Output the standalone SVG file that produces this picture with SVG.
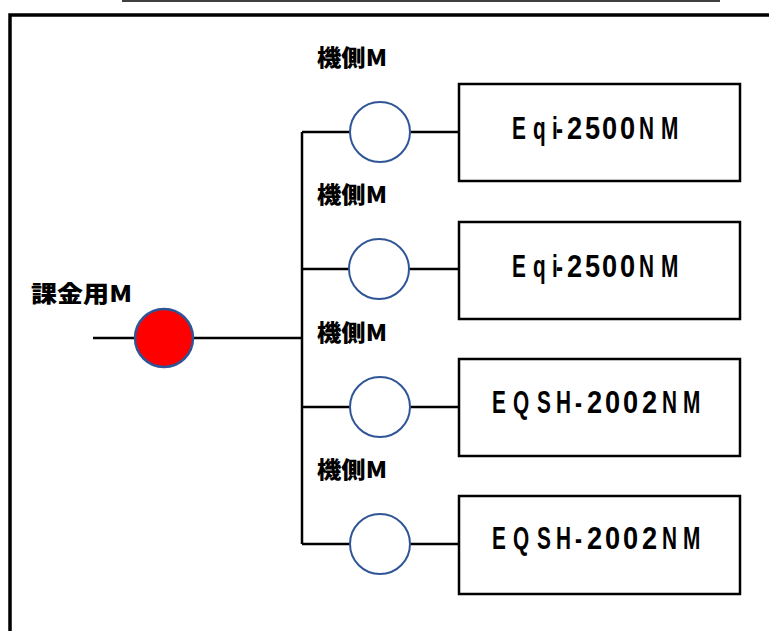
<svg xmlns="http://www.w3.org/2000/svg" width="769" height="631" viewBox="0 0 769 631">
<style>
.wire{stroke:#000;stroke-width:2.5;fill:none}
.meter{fill:#fff;stroke:#2F5597;stroke-width:2}
.box{fill:#fff;stroke:#000;stroke-width:2.5}
.lbl{font-family:"Noto Sans CJK JP","Liberation Sans",sans-serif;font-weight:900;font-size:23px;fill:#000}
.model{font-family:"Liberation Sans",sans-serif;font-weight:bold;font-size:32px;fill:#000}
</style>
<rect width="769" height="631" fill="#fff"/>
<g id="frame">
<line x1="122" y1="1" x2="720" y2="1" stroke="#000" stroke-width="1.5"/>
<polyline points="10,631 10,15 769,15" fill="none" stroke="#000" stroke-width="3.5"/>
</g>
<g id="connectors" class="wire">
<line x1="93" y1="338" x2="302" y2="338"/>
<line x1="302" y1="132" x2="302" y2="544"/>
<line x1="302" y1="132" x2="459" y2="132"/>
<line x1="302" y1="269" x2="459" y2="269"/>
<line x1="302" y1="407" x2="459" y2="407"/>
<line x1="302" y1="544" x2="459" y2="544"/>
</g>
<g id="main-meter">
<circle cx="164" cy="338" r="29" fill="#FF0000" stroke="#2F5597" stroke-width="2.5"/>
<text class="lbl" x="31" y="302" font-size="25" textLength="101" lengthAdjust="spacingAndGlyphs">課金用M</text>
</g>
<g id="meter1">
<circle class="meter" cx="380" cy="132" r="30"/>
<text class="lbl" x="317" y="66" textLength="70" lengthAdjust="spacingAndGlyphs">機側M</text>
</g>
<g id="meter2">
<circle class="meter" cx="379" cy="269" r="30"/>
<text class="lbl" x="317" y="203" textLength="70" lengthAdjust="spacingAndGlyphs">機側M</text>
</g>
<g id="meter3">
<circle class="meter" cx="380" cy="407" r="30"/>
<text class="lbl" x="317" y="341" textLength="70" lengthAdjust="spacingAndGlyphs">機側M</text>
</g>
<g id="meter4">
<circle class="meter" cx="380" cy="544" r="30"/>
<text class="lbl" x="317" y="478" textLength="70" lengthAdjust="spacingAndGlyphs">機側M</text>
</g>
<g id="device1">
<rect class="box" x="459" y="84" width="281" height="97"/>
<g transform="translate(0,139)">
<text class="model" transform="scale(0.65,1)" x="787.7 820 849.2 855.4" y="0">Eqi-</text>
<text class="model" transform="scale(0.85,1)" x="667.1 688.2 708.2 729.4" y="0">2500</text>
<text class="model" transform="scale(0.65,1)" x="983.1 1016.9" y="0">NM</text>
</g>
</g>
<g id="device2">
<rect class="box" x="459" y="222" width="281" height="97"/>
<g transform="translate(0,277)">
<text class="model" transform="scale(0.65,1)" x="787.7 820 849.2 855.4" y="0">Eqi-</text>
<text class="model" transform="scale(0.85,1)" x="667.1 688.2 708.2 729.4" y="0">2500</text>
<text class="model" transform="scale(0.65,1)" x="983.1 1016.9" y="0">NM</text>
</g>
</g>
<g id="device3">
<rect class="box" x="459" y="359" width="281" height="97"/>
<g transform="translate(0,413)">
<text class="model" transform="scale(0.65,1)" x="756.9 789.2 826.2 855.4 884.6" y="0">EQSH-</text>
<text class="model" transform="scale(0.85,1)" x="690.6 711.8 732.9 755.3" y="0">2002</text>
<text class="model" transform="scale(0.65,1)" x="1018.5 1050.8" y="0">NM</text>
</g>
</g>
<g id="device4">
<rect class="box" x="459" y="496" width="281" height="98"/>
<g transform="translate(0,549)">
<text class="model" transform="scale(0.65,1)" x="756.9 789.2 826.2 855.4 884.6" y="0">EQSH-</text>
<text class="model" transform="scale(0.85,1)" x="690.6 711.8 732.9 755.3" y="0">2002</text>
<text class="model" transform="scale(0.65,1)" x="1018.5 1050.8" y="0">NM</text>
</g>
</g>
</svg>
